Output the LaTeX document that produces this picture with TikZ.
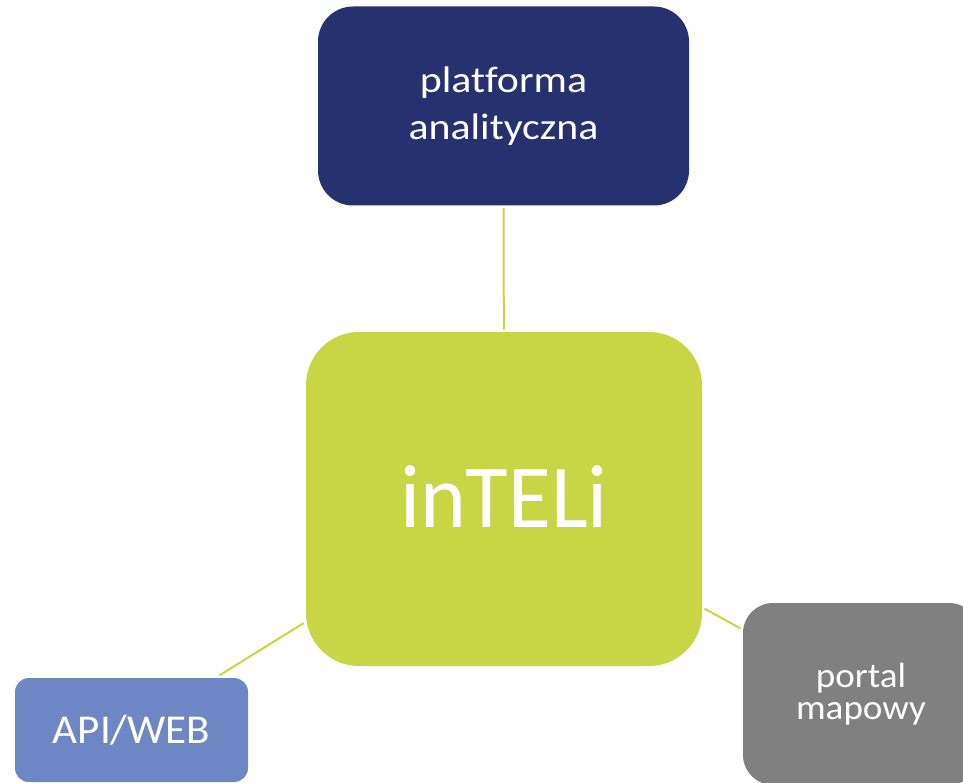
\documentclass[tikz,border=0pt]{standalone}
\usepackage{fontspec}
\usepackage{graphicx}
\setmainfont{Carlito}[Ligatures=NoCommon]
\definecolor{navy}{HTML}{263270}
\definecolor{lime}{HTML}{C8D645}
\definecolor{apiblue}{HTML}{6C87C3}
\definecolor{portalgray}{HTML}{808080}
\newcommand{\hwide}[2]{\scalebox{#1}[1]{#2}}
\tikzset{
  box/.style={draw=none, inner sep=0pt, outer sep=2.5pt, text=white, align=center},
  conn/.style={draw=lime, line width=2pt}
}
\begin{document}
\begin{tikzpicture}[x=1pt,y=-1pt]
\useasboundingbox (0,0) rectangle (963,783);
\clip (0,0) rectangle (963,783);
\node[box, fill=navy, minimum width=371, minimum height=199, rounded corners=35,
      font=\fontsize{37}{46.6}\selectfont] (plat) at (503.5,106)
      {\hwide{1.13}{platforma}\\\hwide{1.13}{analityczna}};
\node[box, fill=lime, minimum width=396, minimum height=334, rounded corners=53,
      font=\fontsize{90}{100}\selectfont] (inteli) at (504,499)
      {\raisebox{5pt}{\hwide{0.97}{inTELi}}};
\node[box, fill=apiblue, minimum width=233, minimum height=104, rounded corners=14,
      font=\fontsize{41}{50}\selectfont] (api) at (131.5,730) {\hwide{1.05}{API/WEB}};
\node[box, fill=portalgray, minimum width=236, minimum height=182, rounded corners=30,
      font=\fontsize{35}{32}\selectfont] (portal) at (861,694)
      {\hwide{1.06}{portal}\\\hwide{1.06}{mapowy}};
\draw[conn] (plat) -- (inteli);
\draw[conn] (inteli) -- (api);
\draw[conn] (inteli) -- (portal);
\end{tikzpicture}
\end{document}
